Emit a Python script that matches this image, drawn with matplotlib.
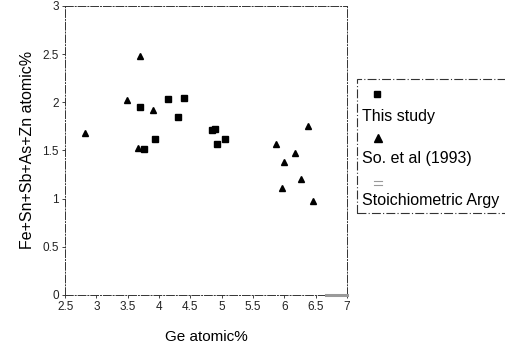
import matplotlib
matplotlib.use("Agg")
import matplotlib.pyplot as plt
from matplotlib.patches import Rectangle
from matplotlib.lines import Line2D

plt.rcParams['font.family'] = ['Liberation Sans', 'DejaVu Sans']

# This study (squares)
study_x = [3.70, 4.15, 4.40, 4.30, 3.94, 3.76, 4.85, 4.90, 4.93, 5.05]
study_y = [1.95, 2.03, 2.04, 1.85, 1.62, 1.51, 1.71, 1.72, 1.57, 1.62]

# So et al (1993) (triangles)
so_x = [3.70, 3.48, 3.90, 2.82, 6.38, 5.87, 6.17, 3.67, 6.00, 6.26, 5.97, 6.46]
so_y = [2.48, 2.02, 1.92, 1.68, 1.75, 1.57, 1.47, 1.52, 1.38, 1.20, 1.11, 0.98]

# Stoichiometric argyrodite
stoich_x = [6.67, 7.0]
stoich_y = [0.0, 0.0]

xticks = [2.5, 3, 3.5, 4, 4.5, 5, 5.5, 6, 6.5, 7]
yticks = [0, 0.5, 1, 1.5, 2, 2.5, 3]

fig = plt.figure(figsize=(5.05, 3.47), dpi=100)
ax = fig.add_axes([0.129, 0.150, 0.558, 0.833])

ax.plot(stoich_x, stoich_y, color='#9a9a9a', lw=2.2, ls='-', clip_on=False, zorder=4)
ax.plot(study_x, study_y, ls='none', marker='s', ms=5, color='black', zorder=3)
ax.plot(so_x, so_y, ls='none', marker='^', ms=5, color='black', zorder=3)

ax.set_xlim(2.5, 7)
ax.set_ylim(0, 3)
ax.set_xticks(xticks)
ax.set_xticklabels(['2.5', '3', '3.5', '4', '4.5', '5', '5.5', '6', '6.5', '7'])
ax.set_yticks(yticks)
ax.set_yticklabels(['0', '0.5', '1', '1.5', '2', '2.5', '3'])
ax.tick_params(direction='out', length=2.5, width=0.6, labelsize=8.5, pad=2, colors='#222222')
for s in ax.spines.values():
    s.set_linewidth(0.7)
    s.set_color('#333333')
    s.set_linestyle((0, (8, 2, 1, 2)))

ax.set_xlabel('Ge atomic%', fontsize=11, labelpad=12)
ax.set_ylabel('Fe+Sn+Sb+As+Zn atomic%', fontsize=11.5, labelpad=5)

# Manual legend (markers above labels)
W, H = 505.0, 347.0
def fx(px):
    return px / W
def fy(py):
    return 1 - py / H

rect = Rectangle((fx(357), fy(213)), fx(520) - fx(357), fy(79) - fy(213),
                 transform=fig.transFigure, fill=False, lw=0.8,
                 edgecolor='#333333', ls=(0, (8, 2, 1, 2)), clip_on=False)
fig.add_artist(rect)
fig.add_artist(Line2D([fx(377)], [fy(94)], marker='s', ms=5, color='black',
                      transform=fig.transFigure))
fig.text(fx(362), fy(117), 'This study', fontsize=11.5, va='center', ha='left')
fig.add_artist(Line2D([fx(378)], [fy(138)], marker='^', ms=6, color='black',
                      transform=fig.transFigure))
fig.text(fx(362), fy(158), 'So. et al (1993)', fontsize=11.5, va='center', ha='left')
fig.add_artist(Line2D([fx(374), fx(382)], [fy(181), fy(181)], color='#999999', lw=0.8,
                      transform=fig.transFigure))
fig.add_artist(Line2D([fx(374), fx(382)], [fy(185), fy(185)], color='#999999', lw=0.8,
                      transform=fig.transFigure))
fig.text(fx(362), fy(200), 'Stoichiometric Argy', fontsize=11.5, va='center', ha='left')

fig.savefig('out.png', dpi=100)
